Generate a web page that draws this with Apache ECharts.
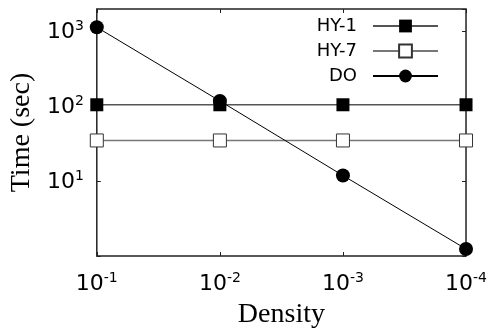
<!DOCTYPE html>
<html><head><meta charset="utf-8">
<script src="https://cdn.jsdelivr.net/npm/echarts@6/dist/echarts.min.js"></script>
<style>html,body{margin:0;padding:0;background:#fff}#c{width:490px;height:334px}</style>
</head><body><div id="c"></div>
<script>
var densities = [0.1, 0.01, 0.001, 0.0001];
var hy1 = [105, 105, 105, 105];
var hy7 = [35, 35, 35, 35];
var dO = [1140, 118, 11.9, 1.24];
var seriesNames = ['HY-1', 'HY-7', 'DO'];

function pairs(vals){ return densities.map(function(d,i){ return [d, vals[i]]; }); }
function expLabel(v){
  var e = Math.round(Math.log(v)/Math.LN10);
  if (Math.abs(v - Math.pow(10,e)) > 1e-9*Math.pow(10,e)) return '';
  return '{b|10}{s|' + e + '}';
}
var rich = {
  b: {fontFamily:'DejaVu Sans', fontSize:22, color:'#000', lineHeight:24, verticalAlign:'bottom'},
  s: {fontFamily:'DejaVu Sans', fontSize:14, color:'#000', lineHeight:24, verticalAlign:'top'}
};
var chart = echarts.init(document.getElementById('c'));
var legendBase = function(name, top){
  return {
    data:[name], orient:'vertical', right:46, top:top, itemWidth:65, itemHeight:16,
    itemGap:0, align:'right',
    textStyle:{fontFamily:'DejaVu Sans', fontSize:18, color:'#000', padding:[0,11,0,0]}
  };
};
chart.setOption({
  animation:false,
  grid:{left:94, right:23, top:9, bottom:78, show:true, borderColor:'#222', borderWidth:1.5},
  legend:[legendBase('HY-1',12), legendBase('HY-7',37), legendBase('DO',62)],
  xAxis:[{
    type:'log', logBase:10, min:0.0001, max:0.1, inverse:true,
    name:'Density', nameLocation:'middle', nameGap:45,
    nameTextStyle:{fontFamily:'Liberation Serif', fontSize:28, color:'#000'},
    axisLine:{show:false}, splitLine:{show:false}, minorTick:{show:false},
    axisTick:{inside:true, length:4, lineStyle:{color:'#222'}},
    axisLabel:{margin:15, formatter:expLabel, rich:rich}
  },{
    type:'log', logBase:10, min:0.0001, max:0.1, inverse:true, position:'top',
    axisLine:{show:false}, splitLine:{show:false},
    axisTick:{inside:true, length:4, lineStyle:{color:'#222'}}, axisLabel:{show:false}
  }],
  yAxis:[{
    type:'log', logBase:10, min:1, max:2000,
    name:'Time (sec)', nameLocation:'middle', nameGap:56,
    nameTextStyle:{fontFamily:'Liberation Serif', fontSize:28, color:'#000'},
    axisLine:{show:false}, splitLine:{show:false},
    axisTick:{inside:true, length:4, lineStyle:{color:'#222'}},
    axisLabel:{margin:13, formatter:function(v){ return v===1 ? '' : expLabel(v); }, rich:rich, showMaxLabel:false}
  },{
    type:'log', logBase:10, min:1, max:2000, position:'right',
    axisLine:{show:false}, splitLine:{show:false},
    axisTick:{inside:true, length:4, lineStyle:{color:'#222'}}, axisLabel:{show:false}
  }],
  series:[
    {name:seriesNames[0], type:'line', data:pairs(hy1), symbol:'rect', symbolSize:13, clip:false,
     itemStyle:{color:'#000'}, lineStyle:{color:'#555', width:1.5}},
    {name:seriesNames[1], type:'line', data:pairs(hy7), symbol:'rect', symbolSize:13, clip:false,
     itemStyle:{color:'#fff', borderColor:'#333', borderWidth:1}, lineStyle:{color:'#777', width:1.5}},
    {name:seriesNames[2], type:'line', data:pairs(dO), symbol:'circle', symbolSize:14, clip:false,
     itemStyle:{color:'#000'}, lineStyle:{color:'#000', width:1}}
  ]
});
</script></body></html>
